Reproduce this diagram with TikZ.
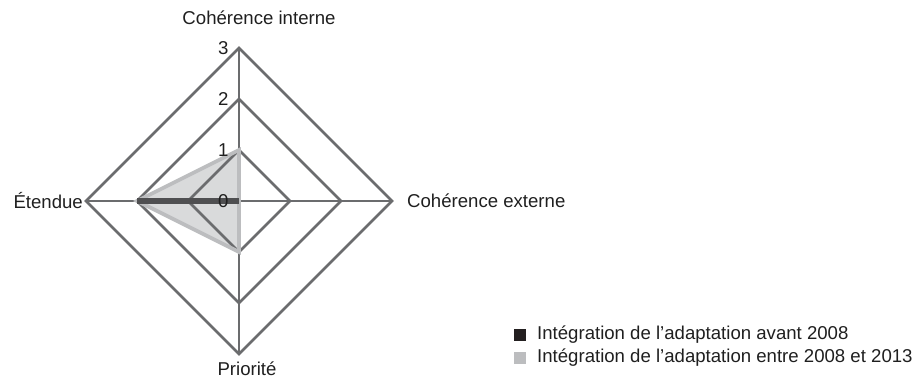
\documentclass[tikz,border=0pt]{standalone}
\usepackage{fontspec}
\setmainfont{Liberation Sans}
\usetikzlibrary{positioning}
\definecolor{gridgray}{HTML}{6B6C6E}
\definecolor{darkseries}{HTML}{4F4F51}
\definecolor{lightfill}{HTML}{D9DADB}
\definecolor{lightline}{HTML}{BCBDBF}
\definecolor{legenddark}{HTML}{231F20}
\definecolor{legendlight}{HTML}{BCBDBF}
\tikzset{
	lbl/.style={font=\fontsize{18.6}{20}\selectfont, text=black!88, inner sep=0pt},
	gridline/.style={draw=gridgray, line width=2.6pt},
	legendbox/.style={minimum size=12pt, inner sep=0pt}
}

\begin{document}
\begin{tikzpicture}[x=1pt,y=1pt]
	\useasboundingbox (0,0) rectangle (916,378);
	\begin{scope}[shift={(239,177)}, x=51pt, y=51pt]
	\coordinate (O) at (0,0);
	\coordinate (N) at (0,3);
	\coordinate (E) at (3,0);
	\coordinate (S) at (0,-3);
	\coordinate (W) at (-3,0);
	\coordinate (A1) at (0,1);
	\coordinate (A2) at (0,0);
	\coordinate (A3) at (0,-1);
	\coordinate (A4) at (-2,0);
	\fill[lightfill] (A1) -- (A2) -- (A3) -- (A4) -- cycle;
	\foreach \r in {1,2,3}
		\draw[gridline] (0,\r) -- (\r,0) -- (0,-\r) -- (-\r,0) -- cycle;
	\draw[gridline] (N) -- (S);
	\draw[gridline] (W) -- (E);
	\draw[lightline, line width=3.8pt, line join=miter] (A1) -- (A2) -- (A3) -- (A4) -- cycle;
	\draw[darkseries, line width=5.5pt] (A4) -- (O);
	\foreach \r in {0,1,2,3}
		\node[lbl] (t\r) at (-0.31,\r) {\r};
	\end{scope}
	\node[lbl] (ci) at (259,360) {Cohérence interne};
	\node[lbl, anchor=west] (ce) at (407,177) {Cohérence externe};
	\node[lbl, anchor=south] (pr) at (247,2) {Priorité};
	\node[lbl, anchor=east] (et) at (83,177) {Étendue};
	\node[legendbox, fill=legenddark] (k1) at (520,43) {};
	\node[legendbox, fill=legendlight] (k2) at (520,20) {};
	\node[lbl, anchor=west] (l1) at (537,43) {Intégration de l’adaptation avant 2008};
	\node[lbl, anchor=west] (l2) at (537,20) {Intégration de l’adaptation entre 2008 et 2013};
\end{tikzpicture}
\end{document}
